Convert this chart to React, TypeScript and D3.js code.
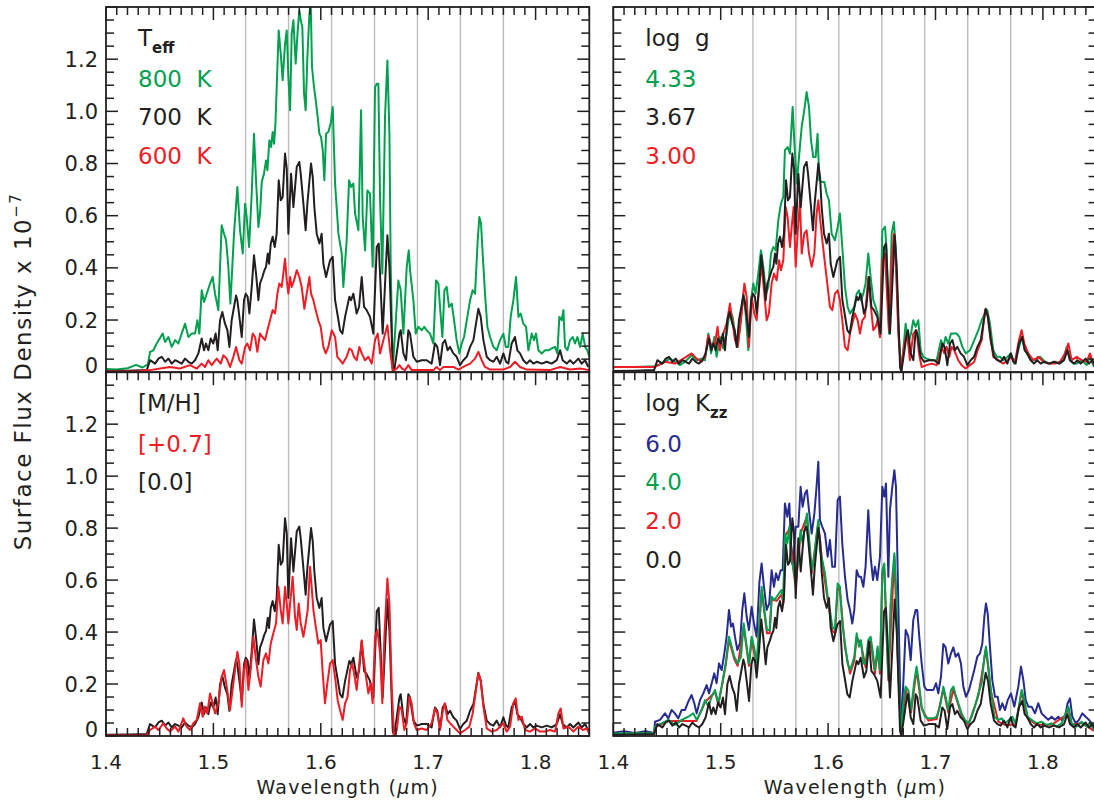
import { useEffect, useRef } from 'react'
import * as d3 from 'd3'

// [wavelength (micron), surface flux density x 1e-7]
const teff800 = [[1.400,0.012],[1.410,0.010],[1.420,0.015],[1.428,0.028],[1.434,0.018],[1.439,0.030],[1.441,0.078],[1.4441,0.084],[1.4472,0.11],[1.4528,0.148],[1.455,0.116],[1.4581,0.135],[1.4612,0.097],[1.4643,0.123],[1.4674,0.11],[1.4736,0.186],[1.4767,0.135],[1.4798,0.148],[1.4829,0.148],[1.4851,0.199],[1.4869,0.148],[1.4891,0.314],[1.4913,0.269],[1.4938,0.301],[1.4969,0.34],[1.4993,0.365],[1.5015,0.301],[1.5046,0.238],[1.5077,0.563],[1.5099,0.531],[1.5118,0.506],[1.5139,0.404],[1.5158,0.263],[1.5192,0.531],[1.5223,0.71],[1.5248,0.544],[1.5273,0.455],[1.5295,0.646],[1.531,0.595],[1.5332,0.48],[1.5357,0.685],[1.5378,0.914],[1.5397,0.736],[1.5419,0.557],[1.5434,0.608],[1.545,0.729],[1.5471,0.761],[1.549,0.812],[1.5503,0.774],[1.5521,0.889],[1.5537,0.863],[1.5552,0.921],[1.5565,0.876],[1.5577,0.946],[1.5596,1.17],[1.5608,1.31],[1.5627,1.221],[1.5645,1.119],[1.5667,1.26],[1.5683,1.31],[1.5698,1.132],[1.5714,1.004],[1.5729,1.298],[1.5745,1.349],[1.5766,1.183],[1.5785,1.31],[1.58,1.387],[1.5813,1.349],[1.5828,1.323],[1.5844,1.068],[1.5859,1.004],[1.5875,1.208],[1.5894,1.374],[1.5906,1.42],[1.5918,1.17],[1.5937,1.093],[1.5953,1.042],[1.5971,0.978],[1.5987,0.914],[1.6002,0.902],[1.6018,0.851],[1.6033,0.736],[1.6049,0.914],[1.607,0.921],[1.6092,0.953],[1.6111,1.017],[1.6133,0.723],[1.6164,0.531],[1.6195,0.455],[1.621,0.327],[1.6241,0.506],[1.6263,0.736],[1.6282,0.71],[1.6303,0.723],[1.6319,0.608],[1.635,0.544],[1.6375,1.004],[1.639,0.595],[1.6412,0.467],[1.6434,0.697],[1.6458,0.685],[1.6483,0.404],[1.6505,1.093],[1.6521,1.106],[1.6536,1.106],[1.6552,0.659],[1.6573,0.378],[1.6598,0.978],[1.662,1.195],[1.6639,0.914],[1.6651,0.404],[1.667,0.008],[1.6691,0.148],[1.6722,0.352],[1.6744,0.314],[1.6769,0.148],[1.68,0.404],[1.6819,0.467],[1.6831,0.391],[1.6862,0.276],[1.6884,0.148],[1.6908,0.174],[1.694,0.161],[1.6964,0.174],[1.6986,0.161],[1.7017,0.148],[1.7048,0.11],[1.7073,0.352],[1.7095,0.34],[1.711,0.25],[1.7132,0.135],[1.7151,0.314],[1.7172,0.327],[1.7194,0.25],[1.7219,0.263],[1.7241,0.199],[1.7265,0.123],[1.729,0.072],[1.7312,0.11],[1.7334,0.135],[1.7359,0.199],[1.739,0.276],[1.7414,0.314],[1.7436,0.301],[1.7461,0.506],[1.7476,0.595],[1.7492,0.57],[1.7507,0.455],[1.7529,0.301],[1.7551,0.174],[1.7576,0.135],[1.7607,0.097],[1.7638,0.084],[1.7669,0.123],[1.77,0.148],[1.7722,0.097],[1.7746,0.097],[1.7768,0.212],[1.7793,0.276],[1.7818,0.365],[1.784,0.212],[1.7861,0.225],[1.7886,0.186],[1.7911,0.174],[1.7933,0.084],[1.7964,0.148],[1.7985,0.123],[1.8004,0.148],[1.8026,0.084],[1.8057,0.072],[1.8088,0.084],[1.8119,0.084],[1.815,0.091],[1.8181,0.097],[1.8203,0.072],[1.8221,0.212],[1.8243,0.199],[1.8259,0.238],[1.8274,0.097],[1.8296,0.084],[1.8321,0.123],[1.8346,0.135],[1.8367,0.11],[1.8389,0.135],[1.8414,0.097],[1.8439,0.148],[1.8461,0.097],[1.8482,0.084],[1.85,0.059]]

// 700 K, log g 3.67, [M/H] 0.0, log Kzz 0 -- the same black model in all four panels
const base700 = [[1.400,0.005],[1.420,0.006],[1.438,0.008],[1.441,0.046],[1.4457,0.033],[1.4488,0.052],[1.4519,0.059],[1.455,0.04],[1.4581,0.052],[1.4612,0.033],[1.4643,0.046],[1.4674,0.04],[1.4705,0.033],[1.4736,0.052],[1.4767,0.04],[1.4798,0.033],[1.4829,0.046],[1.486,0.072],[1.4891,0.129],[1.4913,0.084],[1.4931,0.11],[1.4953,0.084],[1.4975,0.129],[1.4999,0.11],[1.5021,0.148],[1.504,0.084],[1.5062,0.199],[1.5083,0.231],[1.5108,0.186],[1.513,0.161],[1.5149,0.097],[1.517,0.199],[1.5192,0.25],[1.5211,0.294],[1.5223,0.276],[1.5242,0.212],[1.5264,0.135],[1.5285,0.276],[1.5301,0.301],[1.5319,0.289],[1.5335,0.225],[1.5357,0.327],[1.5378,0.448],[1.5397,0.378],[1.5419,0.276],[1.5434,0.34],[1.5456,0.365],[1.5475,0.391],[1.549,0.404],[1.5506,0.455],[1.5518,0.416],[1.5534,0.493],[1.5552,0.519],[1.5571,0.48],[1.5589,0.531],[1.5608,0.736],[1.5627,0.659],[1.5645,0.672],[1.5667,0.838],[1.5683,0.78],[1.5698,0.531],[1.5723,0.761],[1.5745,0.633],[1.5776,0.787],[1.58,0.806],[1.5813,0.761],[1.5838,0.646],[1.5859,0.544],[1.5875,0.646],[1.5909,0.8],[1.5925,0.749],[1.594,0.633],[1.5962,0.531],[1.5987,0.493],[1.6008,0.531],[1.6024,0.416],[1.6049,0.365],[1.6086,0.429],[1.6111,0.442],[1.6133,0.276],[1.6154,0.225],[1.6179,0.161],[1.6201,0.148],[1.6226,0.212],[1.6266,0.289],[1.6282,0.276],[1.6303,0.301],[1.6334,0.225],[1.6356,0.25],[1.6381,0.365],[1.6403,0.25],[1.6427,0.238],[1.6458,0.212],[1.6489,0.148],[1.6521,0.48],[1.6539,0.493],[1.6576,0.148],[1.662,0.525],[1.6639,0.404],[1.667,0.02],[1.6682,0.001],[1.6707,0.072],[1.6732,0.148],[1.6744,0.161],[1.6769,0.072],[1.6794,0.046],[1.6815,0.161],[1.6831,0.148],[1.6862,0.059],[1.6893,0.04],[1.694,0.046],[1.6986,0.046],[1.7032,0.033],[1.7063,0.11],[1.7085,0.097],[1.711,0.027],[1.7135,0.11],[1.7157,0.123],[1.7181,0.084],[1.7203,0.097],[1.7234,0.072],[1.7265,0.059],[1.7296,0.027],[1.7327,0.046],[1.7359,0.059],[1.739,0.097],[1.7421,0.123],[1.7467,0.243],[1.7489,0.212],[1.7514,0.123],[1.7545,0.059],[1.7576,0.046],[1.7607,0.04],[1.7638,0.059],[1.7669,0.033],[1.77,0.072],[1.7725,0.04],[1.7746,0.033],[1.7777,0.11],[1.7808,0.135],[1.783,0.084],[1.7855,0.072],[1.7886,0.046],[1.7917,0.033],[1.7948,0.046],[1.7979,0.033],[1.801,0.04],[1.8057,0.033],[1.8103,0.04],[1.815,0.033],[1.8197,0.046],[1.8228,0.084],[1.8252,0.046],[1.829,0.033],[1.8321,0.046],[1.8352,0.033],[1.8398,0.052],[1.8429,0.033],[1.8461,0.046],[1.8491,0.02]]

const teff600 = [[1.400,0.003],[1.430,0.004],[1.441,0.008],[1.4503,0.014],[1.4596,0.02],[1.4689,0.014],[1.4782,0.027],[1.4845,0.014],[1.4891,0.033],[1.4922,0.02],[1.4953,0.046],[1.4984,0.027],[1.5031,0.052],[1.5068,0.033],[1.5093,0.065],[1.5124,0.052],[1.5155,0.02],[1.5186,0.059],[1.5211,0.097],[1.5242,0.046],[1.5264,0.033],[1.5295,0.097],[1.5316,0.11],[1.5341,0.084],[1.5366,0.148],[1.5388,0.135],[1.5409,0.078],[1.5434,0.148],[1.5456,0.135],[1.5481,0.123],[1.5503,0.161],[1.5527,0.199],[1.5552,0.238],[1.5574,0.225],[1.5596,0.301],[1.5614,0.34],[1.5636,0.327],[1.5651,0.378],[1.5667,0.435],[1.5683,0.352],[1.5698,0.301],[1.5714,0.365],[1.5729,0.327],[1.5751,0.352],[1.5776,0.391],[1.58,0.365],[1.5822,0.327],[1.5847,0.243],[1.5869,0.301],[1.5894,0.365],[1.5909,0.301],[1.5931,0.276],[1.5953,0.238],[1.5977,0.199],[1.5999,0.174],[1.6024,0.097],[1.6046,0.072],[1.607,0.097],[1.6102,0.161],[1.6133,0.135],[1.6154,0.059],[1.6179,0.046],[1.6204,0.033],[1.6241,0.059],[1.6266,0.091],[1.6288,0.084],[1.6309,0.059],[1.6334,0.046],[1.6359,0.097],[1.6381,0.072],[1.6412,0.046],[1.6443,0.059],[1.6474,0.033],[1.6505,0.123],[1.653,0.148],[1.6552,0.072],[1.6583,0.123],[1.662,0.18],[1.6645,0.084],[1.667,0.005],[1.6707,0.014],[1.6732,0.027],[1.6756,0.014],[1.6784,0.008],[1.6815,0.027],[1.6846,0.008],[1.7048,0.008],[1.7079,0.02],[1.711,0.008],[1.7141,0.02],[1.7234,0.02],[1.7281,0.01],[1.7327,0.02],[1.739,0.033],[1.7436,0.052],[1.7467,0.078],[1.7498,0.046],[1.7529,0.02],[1.7576,0.01],[1.77,0.01],[1.7762,0.02],[1.7808,0.04],[1.7855,0.02],[1.7917,0.01],[1.8134,0.008],[1.8228,0.02],[1.8321,0.01],[1.8414,0.014],[1.85,0.008]]

const logg433 = [[1.400,0.02],[1.420,0.02],[1.4388,0.023],[1.445,0.033],[1.4528,0.052],[1.4574,0.04],[1.4621,0.027],[1.4667,0.04],[1.4729,0.065],[1.4776,0.046],[1.4823,0.052],[1.4854,0.046],[1.4885,0.148],[1.491,0.072],[1.4941,0.135],[1.4962,0.059],[1.4993,0.135],[1.5024,0.091],[1.5055,0.148],[1.5086,0.238],[1.5111,0.212],[1.5133,0.148],[1.5158,0.097],[1.5179,0.174],[1.521,0.301],[1.5232,0.225],[1.5257,0.084],[1.5282,0.276],[1.5304,0.34],[1.5325,0.301],[1.535,0.378],[1.5375,0.467],[1.5397,0.404],[1.5422,0.301],[1.5443,0.327],[1.5468,0.455],[1.549,0.48],[1.5512,0.467],[1.5536,0.582],[1.5561,0.646],[1.5583,0.672],[1.5598,0.851],[1.5623,0.863],[1.5645,0.838],[1.567,1.017],[1.5685,0.889],[1.5707,0.723],[1.5732,0.838],[1.5754,0.94],[1.5778,1.004],[1.58,1.074],[1.5822,1.017],[1.5841,0.889],[1.5862,0.825],[1.5884,0.825],[1.5902,0.914],[1.5918,0.736],[1.594,0.729],[1.5965,0.729],[1.5986,0.685],[1.6008,0.659],[1.6033,0.531],[1.6064,0.506],[1.6089,0.557],[1.611,0.608],[1.6132,0.48],[1.6157,0.327],[1.6182,0.25],[1.6204,0.225],[1.6225,0.238],[1.6244,0.25],[1.6266,0.301],[1.6287,0.314],[1.6306,0.276],[1.6328,0.301],[1.6349,0.34],[1.6374,0.455],[1.6396,0.365],[1.6421,0.276],[1.6443,0.25],[1.6461,0.225],[1.6483,0.135],[1.6505,0.544],[1.653,0.557],[1.6545,0.467],[1.6567,0.148],[1.6592,0.531],[1.6613,0.576],[1.6629,0.48],[1.6654,0.174],[1.6679,0.008],[1.67,0.084],[1.6722,0.186],[1.6747,0.11],[1.6772,0.148],[1.6793,0.199],[1.6815,0.174],[1.684,0.199],[1.6862,0.084],[1.6886,0.059],[1.6918,0.052],[1.6964,0.046],[1.7011,0.046],[1.7051,0.123],[1.7073,0.097],[1.7094,0.135],[1.7119,0.11],[1.7144,0.148],[1.7175,0.148],[1.7197,0.148],[1.7222,0.135],[1.725,0.097],[1.7281,0.072],[1.7321,0.084],[1.7361,0.123],[1.7399,0.161],[1.743,0.199],[1.7461,0.225],[1.7482,0.238],[1.7507,0.186],[1.7538,0.084],[1.7569,0.059],[1.76,0.059],[1.7631,0.046],[1.7672,0.059],[1.7703,0.072],[1.7734,0.033],[1.7771,0.084],[1.7802,0.135],[1.7827,0.097],[1.7849,0.072],[1.788,0.052],[1.7926,0.046],[1.7973,0.059],[1.802,0.04],[1.8066,0.033],[1.8112,0.04],[1.8159,0.033],[1.819,0.046],[1.8221,0.097],[1.8252,0.046],[1.8283,0.033],[1.8314,0.033],[1.8361,0.046],[1.8407,0.027],[1.8438,0.059],[1.8476,0.02]]

const logg300 = [[1.400,0.02],[1.420,0.02],[1.4388,0.02],[1.4481,0.04],[1.4574,0.033],[1.4652,0.052],[1.4729,0.072],[1.4776,0.052],[1.4823,0.04],[1.4854,0.059],[1.4885,0.142],[1.4916,0.097],[1.4947,0.11],[1.4971,0.174],[1.4993,0.084],[1.5024,0.148],[1.5055,0.186],[1.5086,0.263],[1.5108,0.199],[1.5133,0.123],[1.5158,0.097],[1.5189,0.199],[1.522,0.34],[1.5242,0.289],[1.5263,0.097],[1.5288,0.289],[1.5313,0.225],[1.5335,0.199],[1.5356,0.314],[1.5381,0.416],[1.5403,0.314],[1.5428,0.199],[1.5449,0.225],[1.5474,0.34],[1.5496,0.378],[1.5521,0.352],[1.5543,0.429],[1.5561,0.391],[1.5583,0.429],[1.5605,0.633],[1.5623,0.595],[1.5645,0.48],[1.5661,0.557],[1.5679,0.633],[1.5698,0.404],[1.5716,0.531],[1.5738,0.659],[1.5754,0.455],[1.5778,0.531],[1.58,0.544],[1.5822,0.455],[1.5847,0.404],[1.5872,0.455],[1.5893,0.608],[1.5909,0.659],[1.5924,0.595],[1.5946,0.506],[1.5971,0.416],[1.5996,0.327],[1.6017,0.25],[1.6039,0.238],[1.6064,0.301],[1.6089,0.314],[1.611,0.276],[1.6132,0.199],[1.6157,0.097],[1.6182,0.084],[1.6204,0.148],[1.6225,0.186],[1.625,0.225],[1.6275,0.199],[1.6297,0.148],[1.6319,0.199],[1.6343,0.212],[1.6374,0.365],[1.6399,0.25],[1.6421,0.161],[1.6443,0.174],[1.6461,0.199],[1.6483,0.135],[1.6505,0.429],[1.653,0.455],[1.6551,0.276],[1.6567,0.161],[1.6592,0.429],[1.6613,0.531],[1.6632,0.404],[1.6654,0.148],[1.6679,0.005],[1.671,0.109],[1.6735,0.148],[1.6762,0.046],[1.6793,0.148],[1.6824,0.161],[1.6846,0.072],[1.6871,0.02],[1.6918,0.027],[1.6964,0.033],[1.7011,0.027],[1.7057,0.097],[1.7082,0.072],[1.7104,0.097],[1.7129,0.059],[1.715,0.097],[1.7175,0.084],[1.7212,0.046],[1.7243,0.027],[1.7281,0.014],[1.7321,0.027],[1.7361,0.04],[1.7392,0.084],[1.743,0.123],[1.7461,0.238],[1.7482,0.225],[1.7507,0.148],[1.7538,0.059],[1.7585,0.046],[1.7631,0.033],[1.7672,0.046],[1.7703,0.059],[1.774,0.04],[1.7777,0.123],[1.7802,0.161],[1.7827,0.11],[1.7864,0.072],[1.7911,0.046],[1.7957,0.059],[1.8004,0.04],[1.805,0.033],[1.8112,0.033],[1.8159,0.04],[1.8206,0.072],[1.8237,0.11],[1.8268,0.046],[1.8314,0.059],[1.8361,0.046],[1.8407,0.04],[1.8438,0.072],[1.8476,0.027]]

const mh07 = [[1.400,0.002],[1.438,0.002],[1.441,0.023],[1.4457,0.036],[1.4488,0.023],[1.4534,0.049],[1.4565,0.029],[1.4596,0.017],[1.4643,0.036],[1.4674,0.017],[1.472,0.068],[1.4751,0.036],[1.4782,0.023],[1.4813,0.049],[1.4845,0.062],[1.4876,0.126],[1.4900,0.074],[1.4922,0.113],[1.4943,0.087],[1.4969,0.164],[1.4993,0.126],[1.5015,0.087],[1.5046,0.126],[1.5077,0.228],[1.5099,0.254],[1.5124,0.19],[1.5155,0.1],[1.5186,0.203],[1.5223,0.324],[1.5242,0.279],[1.5264,0.113],[1.5285,0.254],[1.5304,0.292],[1.5326,0.177],[1.5347,0.254],[1.5372,0.382],[1.5397,0.292],[1.5419,0.228],[1.544,0.19],[1.5465,0.292],[1.549,0.318],[1.5512,0.279],[1.5534,0.356],[1.5558,0.395],[1.5583,0.433],[1.5605,0.574],[1.5627,0.485],[1.5645,0.433],[1.5667,0.574],[1.5683,0.51],[1.5698,0.433],[1.572,0.536],[1.5738,0.613],[1.576,0.459],[1.5776,0.408],[1.5794,0.51],[1.5813,0.433],[1.5838,0.382],[1.5859,0.433],[1.5878,0.485],[1.59,0.651],[1.5915,0.574],[1.5931,0.485],[1.5953,0.421],[1.5977,0.356],[1.5999,0.369],[1.6018,0.241],[1.6039,0.126],[1.6061,0.203],[1.6086,0.279],[1.6111,0.292],[1.6136,0.215],[1.6157,0.138],[1.6179,0.1],[1.6204,0.062],[1.6226,0.126],[1.625,0.151],[1.6272,0.254],[1.6291,0.279],[1.631,0.241],[1.6334,0.177],[1.6359,0.279],[1.6381,0.368],[1.6396,0.305],[1.6421,0.228],[1.6443,0.164],[1.6465,0.203],[1.6483,0.126],[1.6505,0.382],[1.6527,0.408],[1.6552,0.318],[1.6573,0.126],[1.6592,0.382],[1.662,0.606],[1.6639,0.51],[1.666,0.19],[1.6682,0.001],[1.6707,0.023],[1.6732,0.113],[1.6753,0.1],[1.6778,0.023],[1.68,0.049],[1.6825,0.151],[1.6846,0.126],[1.6868,0.049],[1.6893,0.023],[1.694,0.029],[1.6986,0.023],[1.7032,0.049],[1.7064,0.106],[1.7085,0.087],[1.711,0.023],[1.7132,0.087],[1.7154,0.126],[1.7179,0.062],[1.7203,0.049],[1.7234,0.036],[1.7265,0.023],[1.7296,0.01],[1.7343,0.023],[1.7383,0.036],[1.7414,0.087],[1.7445,0.177],[1.7467,0.241],[1.7489,0.215],[1.7514,0.113],[1.7545,0.029],[1.7591,0.017],[1.7638,0.023],[1.7669,0.036],[1.77,0.049],[1.7731,0.017],[1.7762,0.036],[1.7793,0.126],[1.7815,0.145],[1.784,0.062],[1.7871,0.074],[1.7902,0.023],[1.7948,0.017],[1.7995,0.029],[1.8041,0.017],[1.8088,0.017],[1.8134,0.023],[1.8181,0.017],[1.8212,0.087],[1.8234,0.106],[1.8259,0.029],[1.8305,0.036],[1.8352,0.017],[1.8398,0.036],[1.8439,0.023],[1.8476,0.029],[1.85,0.01]]

const kzz6 = [[1.400,0.013],[1.410,0.018],[1.420,0.012],[1.430,0.018],[1.438,0.012],[1.4388,0.055],[1.4435,0.062],[1.4481,0.087],[1.4512,0.068],[1.4543,0.1],[1.4574,0.087],[1.4605,0.068],[1.4636,0.1],[1.4667,0.1],[1.4698,0.132],[1.4729,0.158],[1.4754,0.126],[1.4776,0.087],[1.4807,0.138],[1.4838,0.164],[1.4869,0.196],[1.4891,0.164],[1.4916,0.203],[1.494,0.241],[1.4962,0.203],[1.4984,0.279],[1.5009,0.254],[1.5034,0.318],[1.5055,0.382],[1.5077,0.485],[1.5096,0.421],[1.5114,0.433],[1.5133,0.382],[1.5155,0.331],[1.5179,0.356],[1.5201,0.485],[1.522,0.549],[1.5242,0.459],[1.5263,0.408],[1.5288,0.497],[1.531,0.433],[1.5335,0.382],[1.536,0.59],[1.5381,0.664],[1.5403,0.574],[1.5428,0.485],[1.5452,0.51],[1.5474,0.638],[1.5496,0.574],[1.5515,0.626],[1.5536,0.6],[1.5558,0.638],[1.5577,0.638],[1.5598,0.895],[1.562,0.844],[1.5639,0.895],[1.5654,0.741],[1.5676,0.664],[1.5698,0.805],[1.5723,0.805],[1.5744,0.959],[1.5763,0.882],[1.5785,0.933],[1.5803,0.946],[1.5822,0.869],[1.5847,0.779],[1.5872,0.856],[1.589,0.946],[1.5909,1.055],[1.5924,0.831],[1.5946,0.805],[1.5971,0.779],[1.5996,0.69],[1.6017,0.754],[1.6039,0.651],[1.6064,0.651],[1.6089,0.908],[1.611,0.921],[1.6132,0.741],[1.6157,0.613],[1.6182,0.523],[1.6204,0.485],[1.6225,0.433],[1.6244,0.485],[1.6266,0.638],[1.6287,0.613],[1.6306,0.613],[1.6328,0.574],[1.6349,0.651],[1.6374,0.869],[1.6396,0.69],[1.6418,0.6],[1.6436,0.651],[1.6458,0.6],[1.6483,0.69],[1.6505,0.959],[1.6523,0.921],[1.6539,0.972],[1.6561,0.613],[1.6576,0.869],[1.6598,0.959],[1.6617,1.023],[1.6632,0.959],[1.6654,0.508],[1.6679,0.01],[1.67,0.203],[1.6722,0.408],[1.6747,0.382],[1.6769,0.292],[1.6793,0.446],[1.6815,0.485],[1.683,0.485],[1.6849,0.382],[1.6871,0.279],[1.6896,0.19],[1.6918,0.177],[1.6949,0.177],[1.698,0.177],[1.7005,0.203],[1.7026,0.164],[1.7051,0.228],[1.7073,0.354],[1.7094,0.341],[1.7119,0.279],[1.7144,0.318],[1.7166,0.341],[1.7188,0.305],[1.7212,0.318],[1.7237,0.279],[1.7259,0.19],[1.7284,0.151],[1.7312,0.177],[1.7336,0.215],[1.7361,0.254],[1.7389,0.305],[1.7414,0.318],[1.7436,0.356],[1.7455,0.459],[1.747,0.51],[1.7486,0.472],[1.7507,0.344],[1.7529,0.215],[1.7554,0.151],[1.7579,0.151],[1.76,0.1],[1.7622,0.126],[1.7647,0.1],[1.7672,0.138],[1.7703,0.164],[1.7734,0.113],[1.7771,0.19],[1.7796,0.267],[1.7818,0.215],[1.784,0.138],[1.7864,0.113],[1.7895,0.113],[1.7926,0.087],[1.7957,0.126],[1.7988,0.087],[1.802,0.074],[1.805,0.062],[1.8081,0.074],[1.8112,0.062],[1.8143,0.074],[1.8174,0.062],[1.8206,0.074],[1.823,0.126],[1.8252,0.145],[1.8274,0.074],[1.8305,0.049],[1.8336,0.062],[1.8367,0.087],[1.8398,0.074],[1.8429,0.062],[1.8454,0.049],[1.8476,0.036]]

const kzz4 = [[1.400,0.01],[1.438,0.012],[1.4388,0.036],[1.445,0.049],[1.4512,0.062],[1.4574,0.042],[1.4636,0.062],[1.4698,0.074],[1.4745,0.087],[1.4776,0.062],[1.4823,0.1],[1.4854,0.138],[1.4885,0.113],[1.4916,0.151],[1.4947,0.177],[1.4978,0.126],[1.5009,0.19],[1.5046,0.279],[1.5077,0.382],[1.5102,0.344],[1.5127,0.305],[1.5158,0.279],[1.5189,0.305],[1.5214,0.433],[1.5242,0.344],[1.5263,0.279],[1.5288,0.382],[1.531,0.344],[1.5335,0.279],[1.536,0.433],[1.5381,0.574],[1.5406,0.485],[1.5431,0.408],[1.5456,0.408],[1.5474,0.536],[1.5499,0.523],[1.5521,0.536],[1.5543,0.549],[1.5567,0.562],[1.5583,0.523],[1.5598,0.779],[1.562,0.741],[1.5639,0.805],[1.5654,0.677],[1.5676,0.651],[1.5698,0.587],[1.5723,0.69],[1.5744,0.792],[1.5763,0.741],[1.5785,0.805],[1.5803,0.856],[1.5822,0.767],[1.5847,0.638],[1.5872,0.69],[1.589,0.767],[1.5909,0.831],[1.5924,0.715],[1.5946,0.677],[1.5971,0.626],[1.5996,0.536],[1.6017,0.485],[1.6039,0.421],[1.6064,0.408],[1.6089,0.587],[1.611,0.574],[1.6132,0.433],[1.6157,0.356],[1.6182,0.279],[1.6204,0.254],[1.6225,0.279],[1.6244,0.305],[1.6266,0.395],[1.6287,0.344],[1.6306,0.369],[1.6328,0.279],[1.6349,0.279],[1.6374,0.369],[1.6396,0.382],[1.6418,0.318],[1.6436,0.254],[1.6461,0.344],[1.6483,0.254],[1.6505,0.638],[1.6523,0.664],[1.6545,0.382],[1.6561,0.228],[1.6582,0.51],[1.6598,0.613],[1.6617,0.703],[1.6632,0.574],[1.6654,0.254],[1.6679,0.004],[1.67,0.126],[1.6722,0.19],[1.6747,0.177],[1.6772,0.1],[1.68,0.203],[1.6824,0.267],[1.6846,0.203],[1.6871,0.113],[1.6902,0.074],[1.6933,0.068],[1.698,0.068],[1.7011,0.074],[1.7042,0.113],[1.7073,0.19],[1.7094,0.151],[1.7119,0.1],[1.7144,0.177],[1.7166,0.19],[1.7188,0.158],[1.7212,0.126],[1.7243,0.087],[1.7275,0.062],[1.7306,0.049],[1.7336,0.074],[1.7367,0.113],[1.7399,0.164],[1.743,0.203],[1.7455,0.305],[1.747,0.344],[1.7492,0.267],[1.7516,0.177],[1.7548,0.074],[1.7585,0.062],[1.7616,0.068],[1.7647,0.049],[1.7684,0.062],[1.7715,0.074],[1.7746,0.049],[1.7777,0.113],[1.7802,0.177],[1.7827,0.138],[1.7858,0.074],[1.7895,0.062],[1.7942,0.049],[1.7988,0.055],[1.8035,0.042],[1.8081,0.049],[1.8128,0.036],[1.8174,0.049],[1.8212,0.087],[1.8237,0.113],[1.8268,0.049],[1.8314,0.036],[1.8361,0.055],[1.8407,0.036],[1.8438,0.049],[1.8476,0.023]]

const kzz2 = [[1.400,0.008],[1.438,0.010],[1.4388,0.033],[1.4512,0.058],[1.4636,0.058],[1.4776,0.058],[1.4854,0.13],[1.4947,0.17],[1.4978,0.12],[1.5046,0.27],[1.5077,0.37],[1.5127,0.295],[1.5158,0.27],[1.5214,0.42],[1.5263,0.27],[1.5288,0.37],[1.5335,0.27],[1.5381,0.56],[1.5431,0.395],[1.5456,0.395],[1.5474,0.525],[1.5521,0.52],[1.5567,0.545],[1.5583,0.51],[1.5598,0.77],[1.5639,0.795],[1.5676,0.64],[1.5698,0.575],[1.5744,0.78],[1.5803,0.845],[1.5847,0.625],[1.5909,0.82],[1.5946,0.665],[1.5996,0.525],[1.6039,0.405],[1.6064,0.395],[1.6089,0.57],[1.611,0.56],[1.6157,0.34],[1.6204,0.24],[1.6244,0.29],[1.6266,0.38],[1.6306,0.355],[1.6349,0.265],[1.6396,0.365],[1.6436,0.24],[1.6461,0.33],[1.6483,0.24],[1.6505,0.62],[1.6523,0.645],[1.6561,0.215],[1.6617,0.69],[1.6654,0.24],[1.6679,0.004],[1.6722,0.18],[1.6772,0.09],[1.6824,0.255],[1.6871,0.105],[1.6933,0.06],[1.7011,0.065],[1.7073,0.18],[1.7119,0.09],[1.7166,0.18],[1.7243,0.08],[1.7306,0.043],[1.7399,0.155],[1.747,0.335],[1.7516,0.17],[1.7585,0.055],[1.7647,0.043],[1.7746,0.043],[1.7802,0.17],[1.7858,0.068],[1.7942,0.043],[1.8081,0.043],[1.8212,0.08],[1.8237,0.107],[1.8268,0.043],[1.8361,0.05],[1.8476,0.02]]

const grayLines = [1.53, 1.57, 1.61, 1.65, 1.69, 1.73, 1.77]
const xTickLabels = [1.4, 1.5, 1.6, 1.7, 1.8]
const yTickLabels = [0, 0.2, 0.4, 0.6, 0.8, 1.0, 1.2]

const GREEN = '#00a04e'
const RED = '#ee1c25'
const BLUE = '#262b8f'
const BLACK = '#231f20'

const panels = [
  {
    col: 0, row: 0, head: 'T', sub: 'eff',
    lines: [[teff800, GREEN], [base700, BLACK], [teff600, RED]],
    legend: [['800  K', GREEN], ['700  K', BLACK], ['600  K', RED]],
  },
  {
    col: 1, row: 0, head: 'log  g', sub: '',
    lines: [[logg433, GREEN], [logg300, RED], [base700, BLACK]],
    legend: [['4.33', GREEN], ['3.67', BLACK], ['3.00', RED]],
  },
  {
    col: 0, row: 1, head: '[M/H]', sub: '',
    lines: [[base700, BLACK], [mh07, RED]],
    legend: [['[+0.7]', RED], ['[0.0]', BLACK]],
  },
  {
    col: 1, row: 1, head: 'log  K', sub: 'zz',
    lines: [[kzz6, BLUE], [kzz2, RED], [kzz4, GREEN], [base700, BLACK]],
    legend: [['6.0', BLUE], ['4.0', GREEN], ['2.0', RED], ['0.0', BLACK]],
  },
]

const W = 1094
const H = 804
const cols = [[106, 589.3], [613.3, 1096.6]]
const rows = [[7, 372.2], [372.2, 736]]
const font = 'DejaVu Sans, sans-serif'

export default function App() {
  const ref = useRef(null)

  useEffect(() => {
    const svg = d3.select(ref.current)
    svg.selectAll('*').remove()
    const defs = svg.append('defs')

    panels.forEach((p, i) => {
      const [x0, x1] = cols[p.col]
      const [y0, y1] = rows[p.row]
      const x = d3.scaleLinear().domain([1.4, 1.85]).range([x0, x1])
      const y = d3.scaleLinear().domain([0, 1.4]).range([y1, y0])
      const g = svg.append('g')

      defs.append('clipPath').attr('id', `clip${i}`)
        .append('rect').attr('x', x0).attr('y', y0).attr('width', x1 - x0).attr('height', y1 - y0)

      // reference wavelengths
      g.selectAll('line.grid').data(grayLines).enter().append('line')
        .attr('x1', d => x(d)).attr('x2', d => x(d))
        .attr('y1', y0).attr('y2', y1)
        .attr('stroke', '#bdbdbd').attr('stroke-width', 1.4)

      const line = d3.line().x(d => x(d[0])).y(d => y(d[1]))
      const plot = g.append('g').attr('clip-path', `url(#clip${i})`)
      p.lines.forEach(([data, color]) => {
        plot.append('path').attr('d', line(data))
          .attr('fill', 'none').attr('stroke', color)
          .attr('stroke-width', 2).attr('stroke-linejoin', 'round')
      })

      // frame + inward ticks
      g.append('rect').attr('x', x0).attr('y', y0).attr('width', x1 - x0).attr('height', y1 - y0)
        .attr('fill', 'none').attr('stroke', BLACK).attr('stroke-width', 1.8)

      const xt = d3.range(140, 186).map(v => v / 100)
      const yt = d3.range(0, 29).map(v => v / 20)
      const isMajorX = v => Math.abs(v * 10 - Math.round(v * 10)) < 1e-6
      const isMajorY = v => Math.abs(v * 5 - Math.round(v * 5)) < 1e-6
      const ticks = g.append('g').attr('stroke', BLACK).attr('stroke-width', 1.5)
      xt.forEach(v => {
        const len = isMajorX(v) ? 13 : 8
        ticks.append('line').attr('x1', x(v)).attr('x2', x(v)).attr('y1', y0).attr('y2', y0 + len)
        if (p.row === 1) ticks.append('line').attr('x1', x(v)).attr('x2', x(v)).attr('y1', y1).attr('y2', y1 - len)
      })
      yt.forEach(v => {
        const len = isMajorY(v) ? 12 : 8
        ticks.append('line').attr('x1', x0).attr('x2', x0 + len).attr('y1', y(v)).attr('y2', y(v))
        ticks.append('line').attr('x1', x1).attr('x2', x1 - len).attr('y1', y(v)).attr('y2', y(v))
      })

      if (p.col === 0) {
        g.selectAll('text.yt').data(yTickLabels).enter().append('text')
          .attr('x', x0 - 8).attr('y', d => y(d) + (d === 0 ? -7 : 0))
          .attr('dy', '0.36em').attr('text-anchor', 'end')
          .attr('font-family', font).attr('font-size', 21).attr('fill', BLACK)
          .text(d => d === 0 ? '0' : d3.format('.1f')(d))
      }
      if (p.row === 1) {
        g.selectAll('text.xt').data(xTickLabels).enter().append('text')
          .attr('x', d => x(d)).attr('y', 769)
          .attr('text-anchor', 'middle')
          .attr('font-family', font).attr('font-size', 20).attr('fill', BLACK)
          .text(d => d3.format('.1f')(d))
        const xl = g.append('text').attr('x', (x0 + x1) / 2).attr('y', 794)
          .attr('text-anchor', 'middle').attr('font-family', font).attr('font-size', 19)
          .attr('letter-spacing', 1.2).attr('fill', BLACK)
        xl.append('tspan').text('Wavelength (')
        xl.append('tspan').attr('font-style', 'italic').text('μ')
        xl.append('tspan').text('m)')
      }

      // legend
      const lx = x0 + 32
      const head = g.append('text').attr('x', lx).attr('y', y0 + 39)
        .attr('font-family', font).attr('font-size', 23).attr('fill', BLACK)
        .style('white-space', 'pre')
      head.append('tspan').text(p.head)
      if (p.sub) head.append('tspan').attr('font-size', 15).attr('font-weight', 'bold').attr('dy', 7).text(p.sub)
      p.legend.forEach(([label, color], k) => {
        g.append('text').attr('x', lx).attr('y', y0 + 79.5 + 38.7 * k)
          .attr('font-family', font).attr('font-size', 23).attr('fill', color)
          .style('white-space', 'pre')
          .text(label)
      })
    })

    const yl = svg.append('text')
      .attr('transform', `translate(31,${(rows[0][0] + rows[1][1]) / 2}) rotate(-90)`)
      .attr('text-anchor', 'middle').attr('font-family', font).attr('font-size', 23)
      .attr('letter-spacing', 1.5).attr('fill', BLACK)
    yl.append('tspan').text('Surface Flux Density x 10')
    yl.append('tspan').attr('font-size', 15).attr('dy', -10).text('−7')
  }, [])

  return (
    <svg ref={ref} width={W} height={H} viewBox={`0 0 ${W} ${H}`}
      style={{ position: 'absolute', left: 0, top: 0, background: '#fff' }} />
  )
}
